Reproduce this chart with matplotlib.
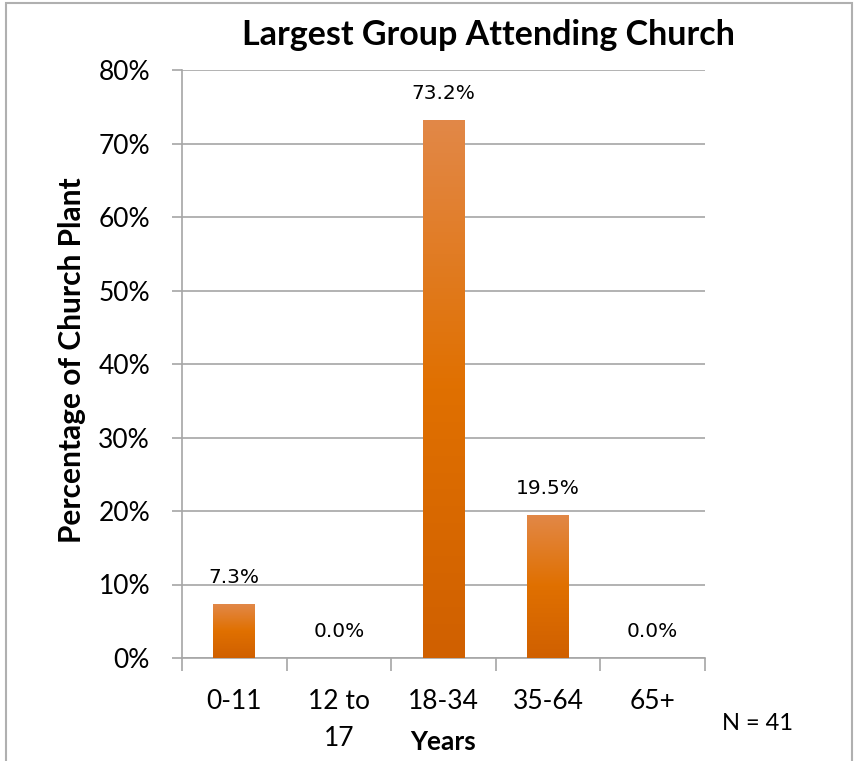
import numpy as np
import matplotlib.pyplot as plt
from matplotlib.patches import Rectangle
from matplotlib.colors import LinearSegmentedColormap

categories = ["0-11", "12 to\n17", "18-34", "35-64", "65+"]
values = [7.3, 0.0, 73.2, 19.5, 0.0]
labels = ["7.3%", "0.0%", "73.2%", "19.5%", "0.0%"]
yticks = [0, 10, 20, 30, 40, 50, 60, 70, 80]

W, H = 858, 761
fig = plt.figure(figsize=(W / 100, H / 100), dpi=100)
ax = fig.add_axes([182 / W, 1 - 658 / H, (705 - 182) / W, (658 - 70) / H])

lab_font = ["Lato", "Open Sans", "DejaVu Sans"]
grid_c = "#a6a6a6"

cmap = LinearSegmentedColormap.from_list("bar", ["#d06000", "#e07000", "#e28848"])
x = np.arange(len(categories))
bw = 0.4
bars = ax.bar(x, values, width=bw, color="none", edgecolor="none", zorder=3)
grad = np.linspace(0, 1, 256).reshape(-1, 1)
for b in bars:
    h = b.get_height()
    if h <= 0:
        continue
    im = ax.imshow(grad, cmap=cmap, aspect="auto", origin="lower",
                   extent=[b.get_x(), b.get_x() + b.get_width(), 0, h], zorder=3)
    im.set_clip_path(b)

for xi, v, t in zip(x, values, labels):
    ax.text(xi, v + 2.3, t, ha="center", va="bottom", fontsize=14.5,
            family="DejaVu Sans", color="#000000", zorder=4)

ax.set_xlim(-0.5, len(categories) - 0.5)
ax.set_ylim(0, 80)
ax.set_yticks(yticks)
ax.set_yticklabels([f"{t}%" for t in yticks], family=lab_font, fontsize=19)
ax.yaxis.grid(True, color=grid_c, linewidth=1.2, zorder=0)
ax.set_axisbelow(True)

ax.set_xticks(x)
ax.set_xticklabels(categories, family=lab_font, fontsize=19, linespacing=1.6)
ax.set_xticks(np.arange(-0.5, len(categories)), minor=True)
ax.tick_params(axis="x", which="major", length=0, pad=22)
ax.tick_params(axis="x", which="minor", length=9, color=grid_c, width=1.2)
ax.tick_params(axis="y", length=7, color=grid_c, width=1.2, pad=16)
for lab in ax.get_xticklabels():
    lab.set_verticalalignment("top")

for s in ["top", "right"]:
    ax.spines[s].set_visible(False)
for s in ["left", "bottom"]:
    ax.spines[s].set_color(grid_c)
    ax.spines[s].set_linewidth(1.2)

fig.text(488 / W, 1 - 35 / H, "Largest Group Attending Church", ha="center", va="center",
         fontsize=24.5, fontweight="bold", family=lab_font)
fig.text(72 / W, 1 - 360 / H, "Percentage of Church Plant", ha="center", va="center",
         rotation=90, fontsize=21.5, fontweight="bold", family=lab_font)
fig.text(443 / W, 1 - 742 / H, "Years", ha="center", va="center",
         fontsize=19, fontweight="bold", family=lab_font)
fig.text(757 / W, 1 - 724 / H, "N = 41", ha="center", va="center",
         fontsize=17, family=lab_font)

fig.patches.append(Rectangle((6 / W, -0.01), (852 - 6) / W, 1 - 3 / H + 0.01,
                             transform=fig.transFigure, fill=False,
                             edgecolor="#b0b0b0", linewidth=1.5))

fig.savefig("out.png", dpi=100)
